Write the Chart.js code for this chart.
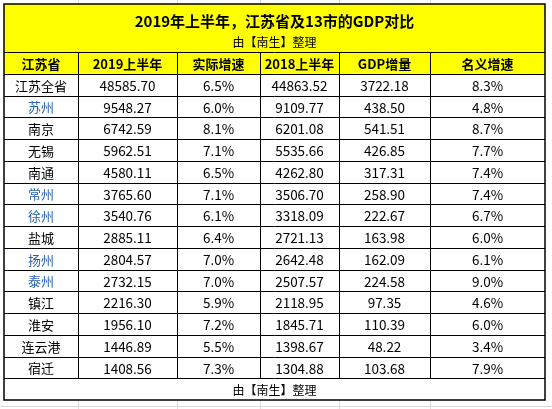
<!DOCTYPE html>
<html><head><meta charset="utf-8">
<script src="https://cdn.jsdelivr.net/npm/chart.js@4"></script>
<style>html,body{margin:0;padding:0;background:#fff}#c{display:block}</style>
</head><body>
<div style="width:552px;height:409px"><canvas id="c" width="552" height="409"></canvas></div>
<script>
const title = "2019年上半年，江苏省及13市的GDP对比";
const subtitle = "由【南生】整理";
const footer = "由【南生】整理";
const columns = ["江苏省","2019上半年","实际增速","2018上半年","GDP增量","名义增速"];
const regions = ["江苏全省","苏州","南京","无锡","南通","常州","徐州","盐城","扬州","泰州","镇江","淮安","连云港","宿迁"];
const gdp2019 = ["48585.70","9548.27","6742.59","5962.51","4580.11","3765.60","3540.76","2885.11","2804.57","2732.15","2216.30","1956.10","1446.89","1408.56"];
const realGrowth = ["6.5%","6.0%","8.1%","7.1%","6.5%","7.1%","6.1%","6.4%","7.0%","7.0%","5.9%","7.2%","5.5%","7.3%"];
const gdp2018 = ["44863.52","9109.77","6201.08","5535.66","4262.80","3506.70","3318.09","2721.13","2642.48","2507.57","2118.95","1845.71","1398.67","1304.88"];
const increase = ["3722.18","438.50","541.51","426.85","317.31","258.90","222.67","163.98","162.09","224.58","97.35","110.39","48.22","103.68"];
const nominalGrowth = ["8.3%","4.8%","8.7%","7.7%","7.4%","7.4%","6.7%","6.0%","6.1%","9.0%","4.6%","6.0%","3.4%","7.9%"];
const blueRegions = ["苏州","常州","徐州","扬州","泰州"];

const rowKeys = ["header", ...regions, "footer"];
const colW = [74,99,83,79,91,115];
const colEdges = colW.reduce((acc,w)=>{acc.push(acc[acc.length-1]+w);return acc;},[0]);
const F = '"Noto Sans CJK SC", sans-serif';

const tablePlugin = {
  id:'table',
  beforeDraw(chart){
    const ctx = chart.ctx, xs = chart.scales.x, ys = chart.scales.y, a = chart.chartArea;
    const half = (ys.getPixelForValue(1)-ys.getPixelForValue(0))/2;
    const edge = i => xs.getPixelForValue(colEdges[i]);
    const mid = i => (edge(i)+edge(i+1))/2;
    ctx.save();
    ctx.fillStyle='#fff'; ctx.fillRect(0,0,chart.width,chart.height);
    ctx.strokeStyle='#d9d9d9'; ctx.lineWidth=1;
    for(let i=1;i<colW.length;i++){const x=Math.round(edge(i))+0.5;ctx.beginPath();ctx.moveTo(x,0);ctx.lineTo(x,chart.height);ctx.stroke();}
    ctx.beginPath();ctx.moveTo(0,chart.height-2.5);ctx.lineTo(chart.width,chart.height-2.5);ctx.stroke();
    const titleTop = a.top-48;
    ctx.fillStyle='#fff';
    ctx.fillRect(a.left,titleTop,a.right-a.left,a.bottom-titleTop);
    ctx.fillStyle='#ffff00';
    ctx.fillRect(a.left,titleTop,a.right-a.left,a.top-titleTop+2*half);
    ctx.textAlign='center'; ctx.textBaseline='middle'; ctx.fillStyle='#000';
    const cx=(a.left+a.right)/2;
    ctx.font='bold 15px '+F; ctx.fillText(title,cx,titleTop+17);
    ctx.font='12px '+F; ctx.fillText(subtitle,cx,titleTop+38);
    columns.forEach((c,i)=>{ctx.font='bold 13px '+F; ctx.fillText(c,mid(i),ys.getPixelForValue(0)+1);});
    const cols=[regions,gdp2019,realGrowth,gdp2018,increase,nominalGrowth];
    regions.forEach((r,ri)=>{
      const y=ys.getPixelForValue(ri+1)+1;
      cols.forEach((arr,ci)=>{
        ctx.font=(ci===0?'13px ':'13.5px ')+F;
        ctx.fillStyle=(ci===0&&blueRegions.includes(r))?'#2a62b0':'#000';
        ctx.fillText(arr[ri],mid(ci),y);
      });
    });
    ctx.fillStyle='#000'; ctx.font='12px '+F;
    ctx.fillText(footer,cx,ys.getPixelForValue(rowKeys.length-1)+1);
    ctx.strokeStyle='#000'; ctx.lineWidth=1;
    for(let r=0;r<rowKeys.length-1;r++){const y=Math.round(ys.getPixelForValue(r)+half)+0.5;ctx.beginPath();ctx.moveTo(a.left,y);ctx.lineTo(a.right,y);ctx.stroke();}
    {const y=Math.round(a.top)+0.5;ctx.beginPath();ctx.moveTo(a.left,y);ctx.lineTo(a.right,y);ctx.stroke();}
    const footTop=ys.getPixelForValue(rowKeys.length-1)-half;
    for(let i=1;i<colW.length;i++){const x=Math.round(edge(i))+0.5;ctx.beginPath();ctx.moveTo(x,a.top);ctx.lineTo(x,footTop);ctx.stroke();}
    ctx.lineWidth=1.5;
    ctx.strokeRect(a.left,titleTop,a.right-a.left,a.bottom-titleTop);
    ctx.restore();
  }
};

new Chart(document.getElementById('c'),{
  type:'scatter',
  data:{datasets:[{data:[]}]},
  options:{
    responsive:false,animation:false,events:[],
    layout:{padding:{left:4,right:7,top:52,bottom:9}},
    plugins:{legend:{display:false},tooltip:{enabled:false}},
    scales:{
      x:{type:'linear',min:0,max:colEdges[colEdges.length-1],display:false},
      y:{type:'category',labels:rowKeys,offset:true,display:false}
    }
  },
  plugins:[tablePlugin]
});
</script></body></html>
